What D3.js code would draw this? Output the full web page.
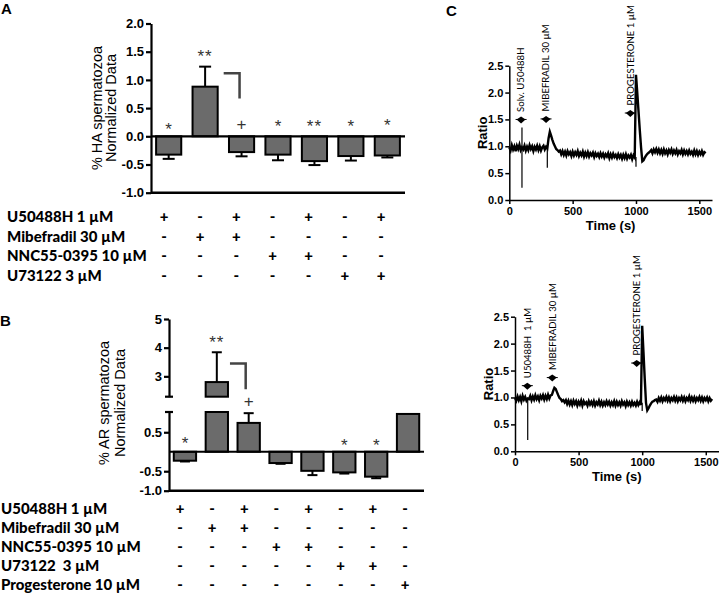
<!DOCTYPE html>
<html><head><meta charset="utf-8">
<script src="https://cdn.jsdelivr.net/npm/d3@7"></script>
<style>body{margin:0;background:#fff}svg{display:block}</style>
</head><body>
<svg id="c" width="720" height="597"></svg>
<script>
// ---------- Panel A data ----------
const valuesA = [-0.325, 0.88, -0.28, -0.325, -0.44, -0.35, -0.34];
const errorsA = [0.075, 0.355, 0.075, 0.10, 0.07, 0.08, 0.035];
const marksA = ["*", "**", "+", "*", "**", "*", "*"];
const markPosA = [0.195, 1.495, 0.225, 0.243, 0.243, 0.243, 0.27];
const ticksA = [-1, -0.5, 0, 0.5, 1, 1.5, 2];
const treatmentsA = ["U50488H 1 µM", "Mibefradil 30 µM", "NNC55-0395 10 µM", "U73122 3 µM"];
const signsA = [
  ["+","-","+","-","+","-","+"],
  ["-","+","+","-","-","-","-"],
  ["-","-","-","+","+","-","-"],
  ["-","-","-","-","-","+","+"]
];
const bracketA = [1.12, 0.67];

// ---------- Panel B data ----------
const valuesB = [-0.23, 2.8, 0.74, -0.29, -0.49, -0.53, -0.64, 0.97];
const errorsB = [0.02, 1.04, 0.25, 0.02, 0.11, 0.03, 0.04, 0];
const marksB = ["*", "**", "+", "", "", "*", "*", ""];
const markPosB = [0.33, 4.34, 1.31, 0, 0, 0.28, 0.28, 0];
const ticksBUpper = [3, 4, 5];
const ticksBLower = [-1, -0.5, 0.5];
const treatmentsB = ["U50488H 1 µM", "Mibefradil 30 µM", "NNC55-0395 10 µM", "U73122  3 µM", "Progesterone 10 µM"];
const signsB = [
  ["+","-","+","-","+","-","+","-"],
  ["-","+","+","-","-","-","-","-"],
  ["-","-","-","+","+","-","-","-"],
  ["-","-","-","-","-","+","+","-"],
  ["-","-","-","-","-","-","-","+"]
];
const bracketB = [3.45, 2.55];

// ---------- Panel C data (ratio sampled every 10 s) ----------
const traceTimes = d3.range(0, 1560, 10);
const traceTop = [
  0.98,0.92,1.02,0.94,1.00,0.91,1.01,0.95,1.03,0.93,
  0.98,0.94,1.01,0.92,0.99,0.93,1.02,0.95,1.00,0.91,
  0.99,0.94,1.01,0.93,1.00,0.92,0.98,1.01,0.94,0.99,
  0.96,1.15,1.27,1.20,1.12,1.05,1.00,0.95,0.93,0.90,
  0.92,0.85,0.91,0.84,0.90,0.83,0.91,0.85,0.89,0.82,
  0.90,0.83,0.89,0.84,0.91,0.82,0.88,0.83,0.90,0.81,
  0.88,0.82,0.89,0.81,0.87,0.83,0.88,0.80,0.87,0.82,
  0.86,0.80,0.87,0.81,0.86,0.79,0.85,0.81,0.87,0.78,
  0.85,0.79,0.86,0.80,0.84,0.78,0.85,0.79,0.84,0.77,
  0.84,0.78,0.85,0.77,0.83,0.79,0.84,0.76,0.83,0.79,
  2.33,2.00,1.65,1.30,0.98,0.72,0.74,0.79,0.83,0.86,
  0.88,0.90,0.93,0.87,0.94,0.89,0.95,0.88,0.94,0.87,
  0.93,0.86,0.94,0.87,0.92,0.85,0.93,0.88,0.94,0.86,
  0.92,0.87,0.93,0.85,0.91,0.87,0.93,0.85,0.92,0.86,
  0.91,0.85,0.92,0.86,0.90,0.84,0.92,0.85,0.91,0.84,
  0.90,0.85,0.91,0.84,0.89,0.87
];
const traceBottom = [
  0.99,0.94,1.02,0.95,1.01,0.93,1.03,0.96,1.01,0.94,
  0.98,0.97,1.03,0.95,1.02,0.96,1.04,0.97,1.02,0.95,
  1.03,0.98,1.04,0.96,1.03,0.97,1.05,0.98,1.04,1.05,
  1.12,1.18,1.16,1.10,1.04,0.99,0.97,0.93,0.95,0.91,
  0.95,0.88,0.94,0.87,0.93,0.86,0.94,0.88,0.93,0.85,
  0.92,0.87,0.94,0.85,0.93,0.88,0.91,0.85,0.93,0.87,
  0.92,0.86,0.93,0.85,0.91,0.87,0.94,0.86,0.92,0.85,
  0.91,0.86,0.93,0.87,0.92,0.85,0.91,0.86,0.93,0.85,
  0.92,0.86,0.91,0.85,0.93,0.87,0.91,0.84,0.92,0.86,
  0.91,0.85,0.92,0.86,0.90,0.85,0.92,0.86,0.91,0.86,
  2.33,1.85,1.35,0.90,0.76,0.80,0.85,0.89,0.92,0.93,
  0.95,0.96,0.92,0.99,0.94,1.00,0.93,0.99,0.95,1.01,
  0.94,1.00,0.93,0.99,0.95,1.01,0.94,1.00,0.93,0.99,
  0.95,1.01,0.94,1.00,0.93,0.99,0.95,1.02,0.94,1.00,
  0.94,1.00,0.93,0.99,0.95,1.01,0.94,1.00,0.93,0.99,
  0.95,1.00,0.93,0.99,0.94,0.97
];
const spikesTop = [[100, 0.23, 1.35], [300, 0.60, 0.97], [1000, 0.62, 0.80]];
const spikesBottom = [[100, 0.21, 0.98], [1000, 0.75, 0.90]];
const markersTop = [[93, 1.49], [290, 1.50], [955, 1.61]];
const markersBottom = [[97, 1.21], [293, 1.36], [957, 1.63]];
const labelsTop = ["Solv. U50488H", "MIBEFRADIL 30 µM", "PROGESTERONE 1 µM"];
const labelsBottom = ["U50488H  1 µM", "MIBEFRADIL 30 µM", "PROGESTERONE 1 µM"];
const ticksCx = [0, 500, 1000, 1500];
const ticksCy = [0, 0.5, 1, 1.5, 2, 2.5];

// ---------- drawing ----------
const svg = d3.select("#c");
const FONT = "'Liberation Sans', Arial, Helvetica, sans-serif";
const TABLE_FONT = "Lato, 'Open Sans', sans-serif";
const BAR_FILL = "#6b6b6b";

function styleAxis(g, size, sw) {
  g.attr("font-family", null).attr("font-size", null);
  g.select(".domain").attr("stroke", "#000").attr("stroke-width", sw);
  g.selectAll(".tick line").attr("stroke", "#000").attr("stroke-width", sw);
  g.selectAll(".tick text").attr("fill", "#000")
    .style("font-family", FONT).style("font-weight", "bold").style("font-size", size + "px");
}
function markDy(m) { return m.indexOf("*") >= 0 ? "0.57em" : "0.36em"; }
function txt(sel, family, size, weight) {
  return sel.style("font-family", family).style("font-size", size + "px").style("font-weight", weight || "normal");
}

// Panel letters
txt(svg.append("text").attr("x", 1).attr("y", 14).text("A"), FONT, 15, "bold");
txt(svg.append("text").attr("x", 0).attr("y", 326).text("B"), FONT, 15, "bold");
txt(svg.append("text").attr("x", 446).attr("y", 16).text("C"), FONT, 15, "bold");

// ===== Panel A =====
(function () {
  const x = d3.scaleBand().domain(d3.range(valuesA.length)).range([151, 405])
    .paddingInner(0.31).paddingOuter(0.14);
  const y = d3.scaleLinear().domain([-1, 2]).range([192.7, 23.5]);
  const g = svg.append("g");
  const bw = x.bandwidth();
  g.selectAll("rect").data(valuesA).join("rect")
    .attr("x", (d, i) => x(i)).attr("width", bw)
    .attr("y", d => y(Math.max(0, d))).attr("height", d => Math.abs(y(d) - y(0)))
    .attr("fill", BAR_FILL).attr("stroke", "#000").attr("stroke-width", 2);
  valuesA.forEach((v, i) => {
    const e = v + Math.sign(v) * errorsA[i];
    const cx = x(i) + bw / 2;
    g.append("line").attr("x1", cx).attr("x2", cx).attr("y1", y(v)).attr("y2", y(e))
      .attr("stroke", "#000").attr("stroke-width", 2);
    g.append("line").attr("x1", cx - 6).attr("x2", cx + 6).attr("y1", y(e)).attr("y2", y(e))
      .attr("stroke", "#000").attr("stroke-width", 2);
  });
  g.append("line").attr("x1", x.range()[0]).attr("x2", x.range()[1]).attr("y1", y(0)).attr("y2", y(0))
    .attr("stroke", "#000").attr("stroke-width", 2.2);
  g.append("line").attr("x1", x.range()[0]).attr("x2", x.range()[1]).attr("y1", y(-1)).attr("y2", y(-1))
    .attr("stroke", "#000").attr("stroke-width", 2.4);
  const ax = g.append("g").attr("transform", `translate(${x.range()[0]},0)`)
    .call(d3.axisLeft(y).tickValues(ticksA).tickFormat(d => d.toFixed(1)).tickSize(5).tickSizeOuter(0).tickPadding(2));
  styleAxis(ax, 13, 2.2);
  marksA.forEach((m, i) => {
    if (!m) return;
    txt(g.append("text").attr("x", x(i) + bw / 2).attr("y", y(markPosA[i])).attr("dy", markDy(m))
      .attr("text-anchor", "middle").attr("letter-spacing", m.length > 1 ? 1 : 0)
      .attr("fill", "#333").text(m), FONT, 17);
  });
  const bx1 = x(1) + bw + 6, bx2 = x(2) + bw / 2 - 2;
  g.append("path").attr("d", `M${bx1},${y(bracketA[0])}H${bx2}V${y(bracketA[1])}`)
    .attr("fill", "none").attr("stroke", "#444").attr("stroke-width", 2.5);
  const lab = txt(g.append("text").attr("transform", `translate(101.7,108) rotate(-90)`)
    .attr("text-anchor", "middle"), FONT, 14.5);
  lab.append("tspan").attr("x", 0).attr("y", 0).text("% HA spermatozoa");
  lab.append("tspan").attr("x", 0).attr("y", 14.3).text("Normalized Data");
  const sx = d3.scalePoint().domain(d3.range(valuesA.length)).range([164, 381]);
  treatmentsA.forEach((t, r) => {
    const yy = 222.3 + r * 19.5;
    txt(g.append("text").attr("x", 7).attr("y", yy).text(t), TABLE_FONT, 15, "900");
    signsA[r].forEach((s, c) => {
      txt(g.append("text").attr("x", sx(c)).attr("y", yy).attr("text-anchor", "middle").text(s), TABLE_FONT, 15, "900");
    });
  });
})();

// ===== Panel B =====
(function () {
  const x = d3.scaleBand().domain(d3.range(valuesB.length)).range([169, 424])
    .paddingInner(0.3).paddingOuter(0.15);
  const yU = d3.scaleLinear().domain([2.29, 5]).range([396.7, 319]);
  const yL = d3.scaleLinear().domain([-1, 1.02]).range([490.7, 412]);
  const g = svg.append("g");
  const bw = x.bandwidth();
  const lowMax = yL.domain()[1], upMin = yU.domain()[0];
  valuesB.forEach((v, i) => {
    const x0 = x(i), cx = x0 + bw / 2;
    const lowTop = Math.min(v, lowMax);
    g.append("rect").attr("x", x0).attr("width", bw)
      .attr("y", yL(Math.max(0, lowTop))).attr("height", Math.abs(yL(lowTop) - yL(0)))
      .attr("fill", BAR_FILL).attr("stroke", "#000").attr("stroke-width", 2);
    let ys = yL;
    if (v > upMin) {
      g.append("rect").attr("x", x0).attr("width", bw)
        .attr("y", yU(v)).attr("height", yU(upMin) - yU(v))
        .attr("fill", BAR_FILL).attr("stroke", "#000").attr("stroke-width", 2);
      ys = yU;
    }
    if (errorsB[i] > 0) {
      const e = v + Math.sign(v) * errorsB[i];
      g.append("line").attr("x1", cx).attr("x2", cx).attr("y1", ys(v)).attr("y2", ys(e))
        .attr("stroke", "#000").attr("stroke-width", 2);
      g.append("line").attr("x1", cx - 5).attr("x2", cx + 5).attr("y1", ys(e)).attr("y2", ys(e))
        .attr("stroke", "#000").attr("stroke-width", 2);
    }
  });
  g.append("line").attr("x1", x.range()[0]).attr("x2", x.range()[1]).attr("y1", yL(0)).attr("y2", yL(0))
    .attr("stroke", "#000").attr("stroke-width", 2.2);
  g.append("line").attr("x1", x.range()[0]).attr("x2", x.range()[1]).attr("y1", yL(-1)).attr("y2", yL(-1))
    .attr("stroke", "#000").attr("stroke-width", 2.4);
  const x0 = x.range()[0];
  const axU = g.append("g").attr("transform", `translate(${x0},0)`)
    .call(d3.axisLeft(yU).tickValues(ticksBUpper).tickFormat(d3.format("d")).tickSize(5).tickSizeOuter(0).tickPadding(2));
  styleAxis(axU, 13, 2.2);
  const axL = g.append("g").attr("transform", `translate(${x0},0)`)
    .call(d3.axisLeft(yL).tickValues(ticksBLower).tickFormat(d => d.toFixed(1)).tickSize(5).tickSizeOuter(0).tickPadding(2));
  styleAxis(axL, 13, 2.2);
  [yU(upMin), yL(lowMax)].forEach(yy => {
    g.append("line").attr("x1", x0 - 4).attr("x2", x0 + 4).attr("y1", yy).attr("y2", yy)
      .attr("stroke", "#000").attr("stroke-width", 2.2);
  });
  marksB.forEach((m, i) => {
    if (!m) return;
    const ys = markPosB[i] > upMin + 0.3 ? yU : yL;
    txt(g.append("text").attr("x", x(i) + bw / 2).attr("y", ys(markPosB[i])).attr("dy", markDy(m))
      .attr("text-anchor", "middle").attr("letter-spacing", m.length > 1 ? 1 : 0)
      .attr("fill", "#333").text(m), FONT, 17);
  });
  const bx1 = x(1) + bw + 2, bx2 = x(2) + bw / 2 - 3;
  g.append("path").attr("d", `M${bx1},${yU(bracketB[0])}H${bx2}V${yU(bracketB[1])}`)
    .attr("fill", "none").attr("stroke", "#444").attr("stroke-width", 2.5);
  const lab = txt(g.append("text").attr("transform", `translate(109.3,403) rotate(-90)`)
    .attr("text-anchor", "middle"), FONT, 14.5);
  lab.append("tspan").attr("x", 0).attr("y", 0).text("% AR spermatozoa");
  lab.append("tspan").attr("x", 0).attr("y", 15.7).text("Normalized Data");
  const sx = d3.scalePoint().domain(d3.range(valuesB.length)).range([180, 405]);
  treatmentsB.forEach((t, r) => {
    const yy = 514.3 + r * 19;
    txt(g.append("text").attr("x", 1).attr("y", yy).text(t).style("white-space", "pre"), TABLE_FONT, 15, "900");
    signsB[r].forEach((s, c) => {
      txt(g.append("text").attr("x", sx(c)).attr("y", yy).attr("text-anchor", "middle").text(s), TABLE_FONT, 15, "900");
    });
  });
})();

// ===== Panel C =====
function tracePanel(xr, yr, values, spikes, markers, labels) {
  const x = d3.scaleLinear().domain([0, 1600]).range(xr);
  const y = d3.scaleLinear().domain([0, 2.5]).range(yr);
  const g = svg.append("g");
  spikes.forEach(s => {
    g.append("line").attr("x1", x(s[0])).attr("x2", x(s[0])).attr("y1", y(s[1])).attr("y2", y(s[2]))
      .attr("stroke", "#000").attr("stroke-width", 1.2);
  });
  g.append("path").datum(values)
    .attr("d", d3.line().x((d, i) => x(traceTimes[i])).y(d => y(d)))
    .attr("fill", "none").attr("stroke", "#000").attr("stroke-width", 2.4).attr("stroke-linejoin", "miter");
  const axX = g.append("g").attr("transform", `translate(0,${yr[0]})`)
    .call(d3.axisBottom(x).tickValues(ticksCx).tickFormat(d3.format("d")).tickSize(4).tickSizeOuter(0).tickPadding(3));
  styleAxis(axX, 11, 1.5);
  const axY = g.append("g").attr("transform", `translate(${xr[0]},0)`)
    .call(d3.axisLeft(y).tickValues(ticksCy).tickFormat(d => d.toFixed(1)).tickSize(4).tickSizeOuter(0).tickPadding(2));
  styleAxis(axY, 11, 1.5);
  txt(g.append("text").attr("x", (xr[0] + xr[1]) / 2).attr("y", yr[0] + 29.5).attr("text-anchor", "middle")
    .text("Time (s)"), FONT, 13, "bold");
  txt(g.append("text").attr("transform", `translate(${xr[0] - 22},${(yr[0] + yr[1]) / 2}) rotate(-90)`)
    .attr("text-anchor", "middle").text("Ratio"), FONT, 13, "bold");
  markers.forEach((m, i) => {
    const mx = x(m[0]), my = y(m[1]);
    g.append("path").attr("d", `M${mx - 4.5},${my - 0.5}L${mx},${my - 3.5}L${mx + 4.5},${my - 0.5}L${mx},${my + 3.5}Z`)
      .attr("fill", "#000");
    g.append("line").attr("x1", mx - 5.5).attr("x2", mx + 5.5).attr("y1", my - 0.5).attr("y2", my - 0.5)
      .attr("stroke", "#000").attr("stroke-width", 1);
    txt(g.append("text").attr("transform", `translate(${mx},${my - 8}) rotate(-90)`)
      .attr("dy", "0.35em").style("white-space", "pre").text(labels[i]), "Lato, sans-serif", 9.6);
  });
}
tracePanel([509.3, 712], [200, 65.7], traceTop, spikesTop, markersTop, labelsTop);
tracePanel([515, 718.5], [451.3, 316.7], traceBottom, spikesBottom, markersBottom, labelsBottom);
</script>
</body></html>
